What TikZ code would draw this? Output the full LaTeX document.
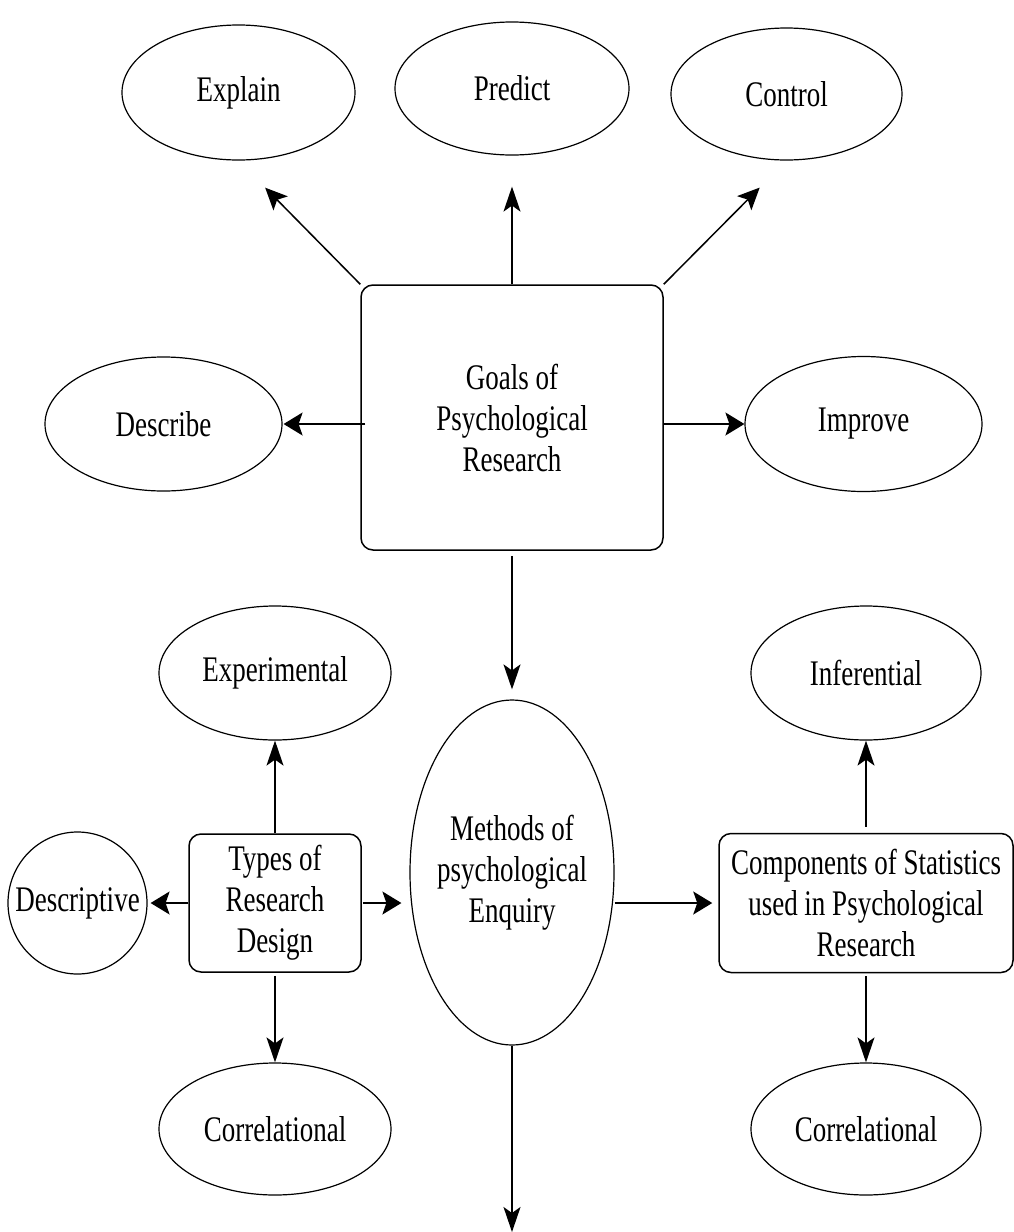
\documentclass[tikz,border=0pt]{standalone}
\usepackage{fontspec}
\setmainfont[FakeStretch=0.75]{Liberation Serif}
\usetikzlibrary{shapes.geometric,arrows.meta}
\begin{document}
\begin{tikzpicture}[x=1pt,y=-1pt,
  every node/.style={font=\fontsize{36}{41}\selectfont, align=center},
  oval/.style={ellipse, draw, line width=1.2pt, inner sep=0pt},
  rbox/.style={draw, rounded corners=12pt, line width=1.5pt, inner sep=0pt},
  con/.style={line width=1.5pt},
  av/.style={con, -{Stealth[length=25pt,width=17pt,inset=6pt]}},
  ah/.style={con, -{Stealth[length=19pt,width=23pt,inset=4pt]}},
  ad/.style={con, -{Stealth[length=22pt,width=20pt,inset=5pt]}}]
\useasboundingbox (0,0) rectangle (1013,1232);

% top row
\node[oval, minimum width=233pt, minimum height=135pt] (explain) at (238.5,92.5) {Explain};
\node[oval, minimum width=234pt, minimum height=133pt] (predict) at (512,88.5) {Predict};
\node[oval, minimum width=231pt, minimum height=132pt] (control) at (786.5,94) {Control};

% goals
\node[rbox, minimum width=302pt, minimum height=265pt] (goals) at (512,417.5) {Goals of\\Psychological\\Research};
\node[oval, minimum width=237pt, minimum height=134pt] (describe) at (163.5,424) {Describe};
\node[oval, minimum width=237pt, minimum height=135pt] (improve) at (863.5,424) {Improve};

% middle
\node[oval, inner xsep=-3pt, minimum width=204pt, minimum height=345pt] (methods) at (512,872.5) {Methods of\\psychological\\Enquiry};
\node[rbox, minimum width=172pt, minimum height=138pt] (types) at (275,903) {Types of\\Research\\Design};
\node[oval, inner xsep=-25pt, minimum width=139pt, minimum height=142pt] (descriptive) at (77.5,903) {Descriptive};
\node[oval, minimum width=232pt, minimum height=134pt] (experimental) at (275,673) {Experimental};
\node[oval, minimum width=232pt, minimum height=132pt] (correlA) at (275,1129) {Correlational};

\node[rbox, minimum width=294pt, minimum height=139pt] (comp) at (866,903) {Components of Statistics\\used in Psychological\\Research};
\node[oval, minimum width=230pt, minimum height=134pt] (inferential) at (866,673) {Inferential};
\node[oval, minimum width=230pt, minimum height=132pt] (correlB) at (866,1129) {Correlational};

\coordinate (bottomEnd) at (512,1232);

% connectors
\draw[ad, shorten >=38pt] (goals.north west) -- (explain.south);
\draw[av, shorten >=31pt] (goals.north) -- (predict.south);
\draw[ad, shorten >=38pt] (goals.north east) -- (control.south);
\draw[ah, shorten <=-5pt, shorten >=1pt] (goals.west |- describe.east) -- (describe.east);
\draw[ah] (goals.east |- improve.west) -- (improve.west);
\draw[av, shorten <=5pt, shorten >=10pt] (goals.south) -- (methods.north);
\draw[av] (methods.south) -- (bottomEnd);

\draw[av] (types.north) -- (experimental.south);
\draw[ah, shorten >=3pt] (types.west) -- (descriptive.east);
\draw[ah, shorten <=1pt, shorten >=8pt] (types.east) -- (types.east -| methods.west);
\draw[av, shorten <=3pt] (types.south) -- (correlA.north);

\draw[ah, shorten >=6pt] (methods.east |- comp.west) -- (comp.west);
\draw[av, shorten <=6pt] (comp.north) -- (inferential.south);
\draw[av, shorten <=3pt] (comp.south) -- (correlB.north);
\end{tikzpicture}
\end{document}
